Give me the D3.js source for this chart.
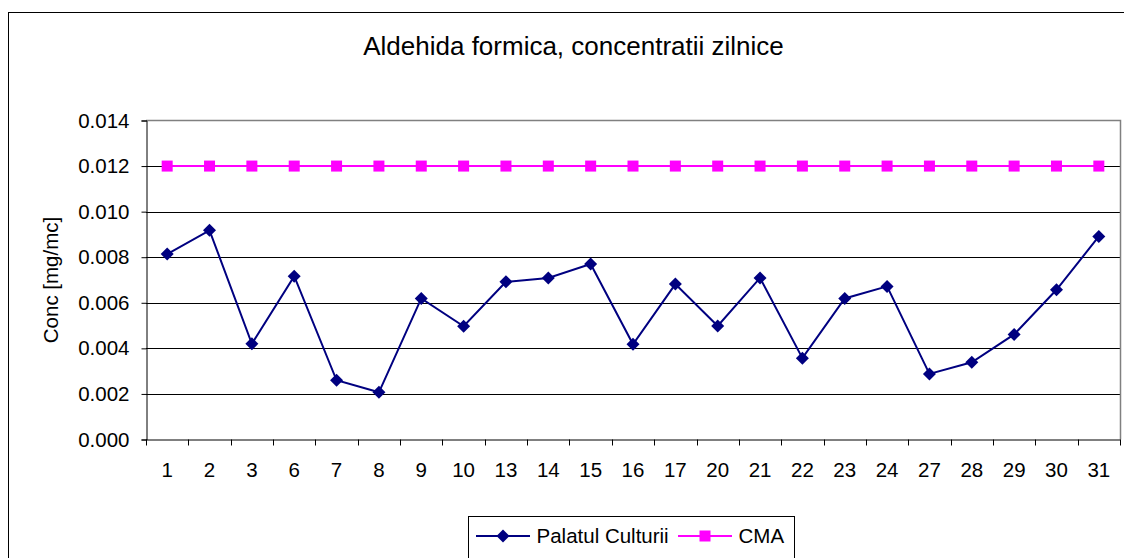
<!DOCTYPE html>
<html>
<head>
<meta charset="utf-8">
<script src="https://cdn.jsdelivr.net/npm/d3@7"></script>
<style>
  html, body { margin: 0; padding: 0; background: #fff; }
  svg { display: block; font-family: "Liberation Sans", Arial, sans-serif; }
</style>
</head>
<body>
<svg id="chart" width="1124" height="558"></svg>
<script>
const days = ["1","2","3","6","7","8","9","10","13","14","15","16","17","20","21","22","23","24","27","28","29","30","31"];
const palatulCulturii = [0.00814,0.00918,0.00420,0.00717,0.00260,0.00207,0.00619,0.00497,0.00692,0.00709,0.00770,0.00418,0.00682,0.00498,0.00709,0.00357,0.00619,0.00672,0.00288,0.00339,0.00461,0.00657,0.00891];
const cma = [0.012,0.012,0.012,0.012,0.012,0.012,0.012,0.012,0.012,0.012,0.012,0.012,0.012,0.012,0.012,0.012,0.012,0.012,0.012,0.012,0.012,0.012,0.012];
const yTicks = [0,0.002,0.004,0.006,0.008,0.010,0.012,0.014];
const seriesNames = ["Palatul Culturii","CMA"];
const titleText = "Aldehida formica, concentratii zilnice";
const yTitle = "Conc [mg/mc]";

const svg = d3.select("#chart");
const L = 146, R = 1120, T = 120.5, B = 439.5;
const axisFont = "20.5px";

// outer chart border
svg.append("rect").attr("x", 8.5).attr("y", 12.5).attr("width", 1130).attr("height", 560)
  .attr("fill", "#fff").attr("stroke", "#000").attr("stroke-width", 1);

const x = d3.scaleBand().domain(days).range([L, R]).padding(0);
const y = d3.scaleLinear().domain([0, 0.014]).range([B, T]);
const cx = d => x(d) + x.bandwidth() / 2;

// title
svg.append("text").attr("x", 573.5).attr("y", 55).attr("text-anchor", "middle")
  .attr("font-size", "26px").attr("fill", "#000").text(titleText);

// gridlines
svg.append("g").selectAll("line").data(yTicks.filter(t => t > 0 && t < 0.014)).join("line")
  .attr("x1", L).attr("x2", R).attr("y1", d => Math.round(y(d)) + 0.5).attr("y2", d => Math.round(y(d)) + 0.5)
  .attr("stroke", "#000").attr("stroke-width", 1);

// plot area border (gray top/right)
svg.append("path").attr("d", `M${L},${T}H${R + 0.5}V${B}`).attr("fill", "none").attr("stroke", "#808080").attr("stroke-width", 1.5);

// Y axis
const yAxis = d3.axisLeft(y).tickValues(yTicks).tickFormat(d3.format(".3f")).tickSize(5).tickPadding(12);
const gy = svg.append("g").attr("transform", `translate(${L + 0.5},0)`).call(yAxis);
gy.select(".domain").attr("stroke", "#000");
gy.selectAll(".tick line").attr("stroke", "#000");
gy.selectAll(".tick text").attr("font-size", axisFont).attr("font-family", "Liberation Sans, Arial, sans-serif").attr("fill", "#000");

// X axis labels
const xAxis = d3.axisBottom(x).tickSize(0).tickPadding(23);
const gx = svg.append("g").attr("transform", `translate(0,${B})`).call(xAxis);
gx.select(".domain").remove();
gx.selectAll(".tick text").attr("font-size", axisFont).attr("font-family", "Liberation Sans, Arial, sans-serif").attr("fill", "#000");
// x axis line and boundary ticks
svg.append("line").attr("x1", L).attr("x2", R + 0.5).attr("y1", B + 0.5).attr("y2", B + 0.5).attr("stroke", "#000");
const bounds = days.map(d => x(d)).concat([R]);
svg.append("g").selectAll("line").data(bounds).join("line")
  .attr("x1", d => Math.round(d) + 0.5).attr("x2", d => Math.round(d) + 0.5)
  .attr("y1", B).attr("y2", B + 6).attr("stroke", "#000");

// Y title
svg.append("text").attr("transform", `translate(58,280) rotate(-90)`).attr("text-anchor", "middle")
  .attr("font-size", axisFont).attr("fill", "#000").text(yTitle);

// series lines
const line = d3.line().x((d, i) => cx(days[i])).y(d => y(d));
svg.append("path").datum(palatulCulturii).attr("d", line).attr("fill", "none")
  .attr("stroke", "#000080").attr("stroke-width", 2);
svg.append("path").datum(cma).attr("d", line).attr("fill", "none")
  .attr("stroke", "#FF00FF").attr("stroke-width", 2);

const diamond = d3.symbol().type(d3.symbolDiamond2 || d3.symbolSquare).size(72);
function diamondPath(s) { return `M0,${-s}L${s},0L0,${s}L${-s},0Z`; }
svg.append("g").selectAll("path").data(palatulCulturii).join("path")
  .attr("d", diamondPath(6.5)).attr("transform", (d, i) => `translate(${cx(days[i])},${y(d)})`)
  .attr("fill", "#000080");
svg.append("g").selectAll("rect").data(cma).join("rect")
  .attr("x", (d, i) => cx(days[i]) - 5.5).attr("y", d => y(d) - 5.5).attr("width", 11).attr("height", 11)
  .attr("fill", "#FF00FF");

// legend
const lg = svg.append("g");
lg.append("rect").attr("x", 468.5).attr("y", 516.5).attr("width", 326).attr("height", 60)
  .attr("fill", "#fff").attr("stroke", "#000").attr("stroke-width", 1);
const ly = 536;
lg.append("line").attr("x1", 476).attr("x2", 530).attr("y1", ly).attr("y2", ly).attr("stroke", "#000080").attr("stroke-width", 2);
lg.append("path").attr("d", diamondPath(6.5)).attr("transform", `translate(503,${ly})`).attr("fill", "#000080");
lg.append("text").attr("x", 536.5).attr("y", ly).attr("dy", "0.36em").attr("font-size", axisFont).attr("fill", "#000").text(seriesNames[0]);
lg.append("line").attr("x1", 678).attr("x2", 732).attr("y1", ly).attr("y2", ly).attr("stroke", "#FF00FF").attr("stroke-width", 2);
lg.append("rect").attr("x", 705 - 5.5).attr("y", ly - 5.5).attr("width", 11).attr("height", 11).attr("fill", "#FF00FF");
lg.append("text").attr("x", 738.5).attr("y", ly).attr("dy", "0.36em").attr("font-size", axisFont).attr("fill", "#000").text(seriesNames[1]);
</script>
</body>
</html>
